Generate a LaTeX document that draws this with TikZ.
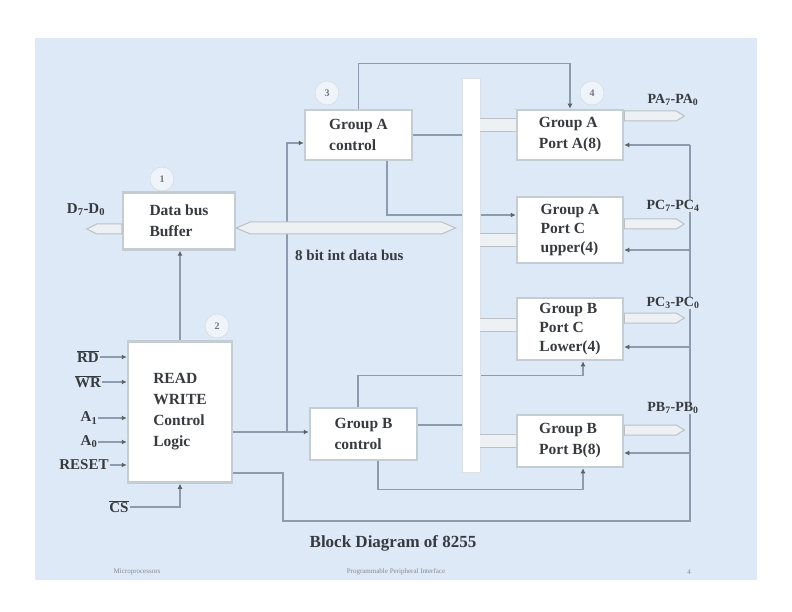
\documentclass[tikz,border=0pt]{standalone}
\usepackage{fontspec}
\setmainfont{Liberation Serif}
\usetikzlibrary{arrows.meta,calc}
\definecolor{bg}{RGB}{221,233,246}
\definecolor{ln}{RGB}{140,156,174}
\definecolor{bx}{RGB}{196,204,212}
\definecolor{tx}{RGB}{55,58,62}
\definecolor{hf}{RGB}{238,241,243}
\definecolor{hb}{RGB}{186,192,198}
\begin{document}
\begin{tikzpicture}[x=1pt,y=-1pt,
  blk/.style={draw=bx, line width=2.5pt, fill=white, text=tx, align=left, inner sep=0pt,
    font=\fontsize{15.5}{21}\selectfont\bfseries},
  blk3/.style={blk, font=\fontsize{15.5}{19}\selectfont\bfseries},
  lbl/.style={text=tx, inner sep=1pt, font=\fontsize{15}{18}\selectfont\bfseries},
  plbl/.style={text=tx, fill=bg, inner sep=0.5pt, font=\fontsize{14}{16}\selectfont\bfseries},
  sig/.style={draw=ln, line width=1.3pt},
  arr/.style={sig, -{Latex[length=5pt,width=5pt,color=tx!80]}},
  hol/.style={draw=hb, double=hf, double distance=12pt, line width=1pt},
  holshape/.style={draw=hb, fill=hf, line width=1pt},
  circ/.style={circle, draw=bx!80, fill=white!50!bg, minimum size=24pt, inner sep=0pt,
    text=tx!70, font=\fontsize{10}{10}\selectfont\bfseries},
  foot/.style={text=tx!60, font=\fontsize{7}{8}\selectfont}]
\fill[white] (0,0) rectangle (792,612);
\fill[bg] (35,38) rectangle (757,580);
\useasboundingbox (0,0) rectangle (792,612);

% blocks
\node[blk, minimum width=112pt, minimum height=57pt] (buf) at (179,221) {Data bus\\Buffer};
\node[blk, minimum width=104pt, minimum height=141pt] (rw) at (180,412) {READ\\WRITE\\Control\\Logic};
\node[blk, minimum width=107pt, minimum height=50pt] (gac) at (358.5,135) {Group A\\control};
\node[blk, minimum width=106pt, minimum height=50pt] (pa) at (570,135) {Group A\\Port A(8)};
\node[blk3, minimum width=106pt, minimum height=66pt] (pcu) at (570,230) {Group A\\Port C\\upper(4)};
\node[blk3, minimum width=106pt, minimum height=62pt] (pcl) at (570,329) {Group B\\Port C\\Lower(4)};
\node[blk, minimum width=107pt, minimum height=52pt] (gbc) at (363.5,434) {Group B\\control};
\node[blk, minimum width=106pt, minimum height=52pt] (pb) at (570,441) {Group B\\Port B(8)};

% circles
\node[circ] (c1) at (162,179) {1};
\node[circ] (c2) at (217,326) {2};
\node[circ] (c3) at (327,93) {3};
\node[circ] (c4) at (592,93) {4};

% input labels
\node[lbl] (dd) at (86,210) {D\textsubscript{7}-D\textsubscript{0}};
\node[lbl] (rd) at (88,357) {$\overline{\mbox{RD}}$};
\node[lbl] (wr) at (88,382) {$\overline{\mbox{WR}}$};
\node[lbl] (a1) at (89,418) {A\textsubscript{1}};
\node[lbl] (a0) at (89,442) {A\textsubscript{0}};
\node[lbl] (rst) at (84,465) {RESET};
\node[lbl] (cs) at (119,507) {$\overline{\mbox{CS}}$};

\node[lbl, anchor=west] (dbl) at (294,255) {8 bit int data bus};
\node[text=tx, font=\fontsize{17}{19}\selectfont\bfseries] (cap) at (393,543) {Block Diagram of 8255};

% footer
\node[foot] (f1) at (137,572) {Microprocessors};
\node[foot] (f2) at (396,572) {Programmable Peripheral Interface};
\node[foot] (f3) at (689,572) {4};

% control connections
\draw[arr] (rw.north) -- (rw.north |- buf.south);
\draw[arr] (rd.east) -- (rw.west |- rd.east);
\draw[arr] (wr.east) -- (rw.west |- wr.east);
\draw[arr] (a1.east) -- (rw.west |- a1.east);
\draw[arr] (a0.east) -- (rw.west |- a0.east);
\draw[arr] (rst.east) -- (rw.west |- rst.east);
\draw[arr] (cs.east) -| (rw.south);

\coordinate (j1) at (287,432);
\draw[sig] (rw.east |- j1) -- (j1);
\draw[arr] (j1) |- ([yshift=-8pt]gac.west);
\draw[arr] (j1) -- (gbc.west |- j1);

\coordinate (j2) at (283,473);
\coordinate (bl) at (283,521);
\coordinate (br) at (690,521);
\path ([yshift=-10pt]pa.east) coordinate (pae);
\path ([yshift=-20pt]pcu.east) coordinate (pcue);
\path ([yshift=-18pt]pcl.east) coordinate (pcle);
\path ([yshift=-12pt]pb.east) coordinate (pbe);
\draw[sig] (rw.east |- j2) -- (j2) -- (bl) -- (br) -- (br |- pae);
\draw[arr] (br |- pae) -- (pae);
\draw[arr] (br |- pcue) -- (pcue);
\draw[arr] (br |- pcle) -- (pcle);
\draw[arr] (br |- pbe) -- (pbe);

\draw[arr] (gac.north) -- ++(0,-45) -| (pa.north);
\draw[arr] ([xshift=28.5pt]gac.south) |- ([yshift=15pt]pcu.west);
\draw[arr] ([xshift=-5.5pt]gbc.north) -- ++(0,-31) -| ([xshift=13pt]pcl.south);
\draw[arr] ([xshift=14.5pt]gbc.south) -- ++(0,28) -| ([xshift=13pt]pb.south);

% internal bus
\node[draw=bx!60, fill=white, line width=0.8pt, minimum width=18pt, minimum height=394pt, inner sep=0pt] (bus) at (471,275) {};
\draw[sig] (gac.east) -- (gac.east -| bus.west);
\draw[sig] ([yshift=9pt]gbc.east) -- ([yshift=9pt]gbc.east -| bus.west);

% bus to ports
\path ([yshift=10pt]pa.west) coordinate (pai);
\path ([yshift=-10pt]pcu.west) coordinate (pcui);
\path ([yshift=4pt]pcl.west) coordinate (pcli);
\path (pb.west) coordinate (pbi);
\draw[hol] (pai -| bus.east) -- (pai);
\draw[hol] (pcui -| bus.east) -- (pcui);
\draw[hol] (pcli -| bus.east) -- (pcli);
\draw[hol] (pbi -| bus.east) -- (pbi);

% data bus
\path ([yshift=-7pt]buf.east) coordinate (dbL);
\path (dbL -| bus.west) coordinate (dbR);
\draw[holshape] (dbL) -- ++(14,-6) -- ($(dbR)+(-20,-6)$) -- ($(dbR)+(-6,0)$) -- ($(dbR)+(-20,6)$) -- ($(dbL)+(14,6)$) -- cycle;
\path ([yshift=-8pt]buf.west) coordinate (dL);
\draw[holshape] (dL) ++(0,-5) -- ++(-25,0) -- ++(-10,5) -- ++(10,5) -- ++(25,0) -- cycle;

% port outputs
\path ([yshift=19pt]pa.east) coordinate (pao);
\path ([yshift=6pt]pcu.east) coordinate (pcuo);
\path ([yshift=11pt]pcl.east) coordinate (pclo);
\path ([yshift=11pt]pb.east) coordinate (pbo);
\foreach \p in {pao,pcuo,pclo,pbo}
  \draw[holshape] (\p) ++(0,-5) -- ++(52,0) -- ++(8,5) -- ++(-8,5) -- ++(-52,0) -- cycle;

% port labels
\node[plbl] (lpa) at (673,100) {PA\textsubscript{7}-PA\textsubscript{0}};
\node[plbl] (lpcu) at (673,206) {PC\textsubscript{7}-PC\textsubscript{4}};
\node[plbl] (lpcl) at (673,303) {PC\textsubscript{3}-PC\textsubscript{0}};
\node[plbl] (lpb) at (673,408) {PB\textsubscript{7}-PB\textsubscript{0}};
\end{tikzpicture}
\end{document}
